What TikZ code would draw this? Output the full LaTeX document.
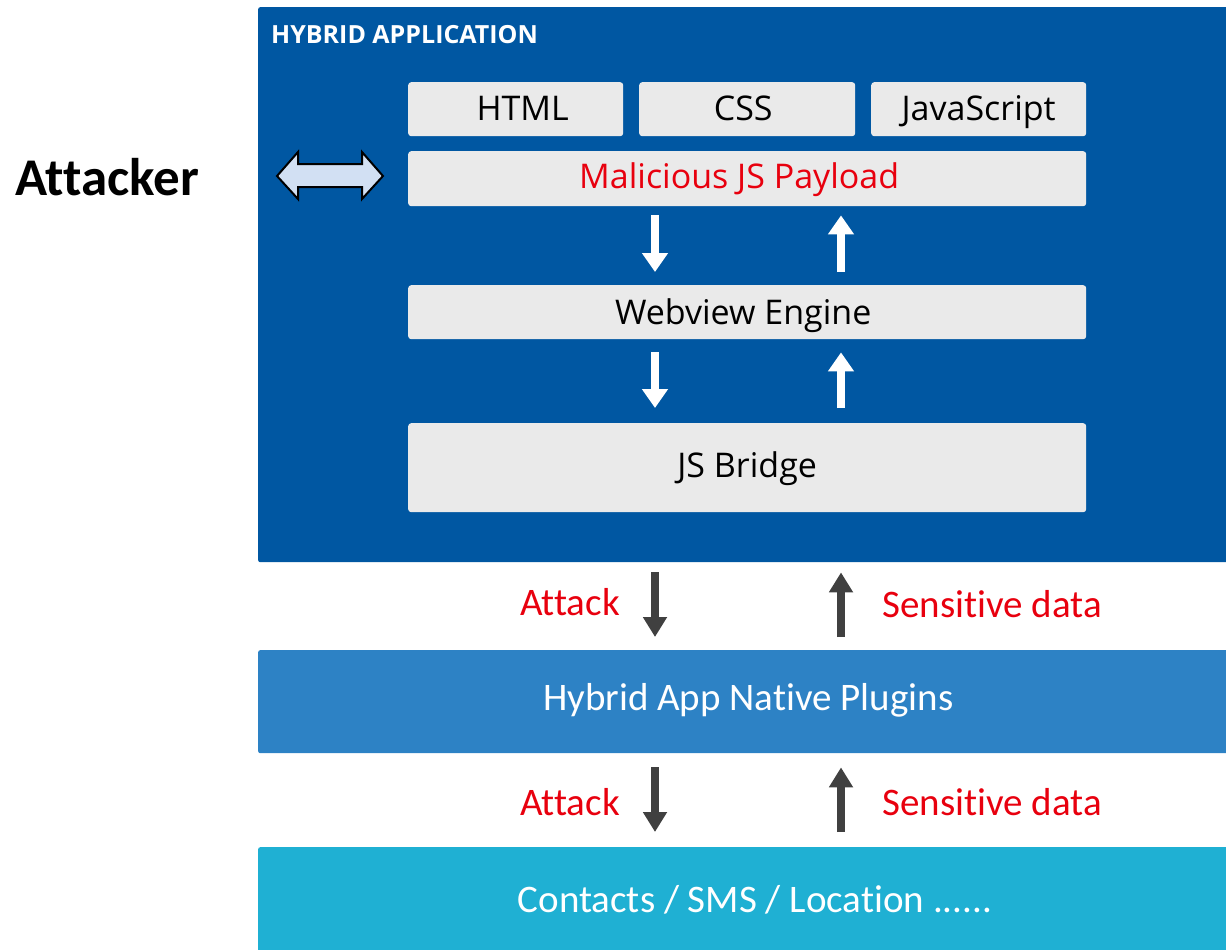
\documentclass[tikz,border=0pt]{standalone}
\usepackage{fontspec}
\setmainfont{Open Sans}
\newfontfamily\calib[Ligatures=NoCommon]{Carlito}
\usetikzlibrary{arrows.meta}
\definecolor{appblue}{RGB}{0,87,162}
\definecolor{plugblue}{RGB}{45,130,197}
\definecolor{devcyan}{RGB}{31,176,211}
\definecolor{boxgray}{RGB}{234,234,234}
\definecolor{alertred}{RGB}{232,0,14}
\definecolor{darkarrow}{RGB}{64,64,64}
\definecolor{attackfill}{RGB}{210,224,243}
\tikzset{
  layer/.style={rounded corners=2pt, inner sep=0pt, anchor=north west},
  webbox/.style={layer, fill=boxgray, rounded corners=3pt},
  boxtext/.style={font=\fontsize{34}{40}\selectfont, anchor=base, inner sep=0pt},
  flowtext/.style={font=\calib\fontsize{39}{46}\selectfont},
  warrow/.style={draw=white, line width=8pt, -{Triangle[width=25pt,length=19pt]}},
  darrow/.style={draw=darkarrow, line width=8pt, -{Triangle[width=23pt,length=20pt]}},
  redlabel/.style={flowtext, text=alertred, inner sep=0pt},
}
\begin{document}
\begin{tikzpicture}[x=1pt,y=-1pt]
\useasboundingbox (0,0) rectangle (1226,950);

% hybrid application container
\node[layer, fill=appblue, minimum width=980pt, minimum height=555pt] (app) at (258,7) {};
\node[anchor=west, text=white, inner sep=0pt, font=\bfseries\fontsize{25}{30}\selectfont] (apptitle) at (271,35) {HYBRID APPLICATION};

% web content layers
\node[webbox, minimum width=215pt, minimum height=54pt] (html) at (408,82) {};
\node[boxtext] at ([xshift=7pt,yshift=-11pt]html.center) {HTML};
\node[webbox, minimum width=216pt, minimum height=54pt] (css) at (639,82) {};
\node[boxtext] at ([xshift=-4pt,yshift=-11pt]css.center) {CSS};
\node[webbox, minimum width=215pt, minimum height=54pt] (js) at (871,82) {};
\node[boxtext] at ([yshift=-11pt]js.center) {JavaScript};
\node[webbox, minimum width=678pt, minimum height=55pt] (mal) at (408,151) {};
\node[boxtext, text=alertred] at ([xshift=-8pt,yshift=-10pt]mal.center) {Malicious JS Payload};
\node[webbox, minimum width=678pt, minimum height=54pt] (web) at (408,285) {};
\node[boxtext] at ([xshift=-4pt,yshift=-12pt]web.center) {Webview Engine};
\node[webbox, minimum width=678pt, minimum height=89pt] (bridge) at (408,423) {};
\node[boxtext] at ([yshift=-10pt]bridge.center) {JS Bridge};

% native layers
\node[layer, fill=plugblue, minimum width=980pt, minimum height=103pt] (plug) at (258,650) {};
\node[flowtext, text=white] at ([yshift=1pt]plug.center) {Hybrid App Native Plugins};
\node[layer, fill=devcyan, minimum width=980pt, minimum height=110pt] (dev) at (258,847) {};
\node[flowtext, text=white] at (755,900) {Contacts / SMS / Location ......};

% columns of the data flow
\coordinate (down) at (655,0);
\coordinate (up) at (841,0);

% flows inside the web view
\draw[warrow] ([yshift=-9pt]mal.south -| down) -- ([yshift=13pt]web.north -| down);
\draw[warrow] ([yshift=13pt]web.north -| up) -- ([yshift=-9pt]mal.south -| up);
\draw[warrow] ([yshift=-13pt]web.south -| down) -- ([yshift=15pt]bridge.north -| down);
\draw[warrow] ([yshift=15pt]bridge.north -| up) -- ([yshift=-13pt]web.south -| up);

% flows between the layers
\draw[darrow] ([yshift=-10pt]app.south -| down) -- ([yshift=13pt]plug.north -| down);
\draw[darrow] ([yshift=13pt]plug.north -| up) -- ([yshift=-10pt]app.south -| up);
\draw[darrow] ([yshift=-14pt]plug.south -| down) -- ([yshift=15pt]dev.north -| down);
\draw[darrow] ([yshift=15pt]dev.north -| up) -- ([yshift=-14pt]plug.south -| up);

\node[redlabel, anchor=east] (atk1) at (620,602) {Attack};
\node[redlabel, anchor=west] (sen1) at (882,604) {Sensitive data};
\node[redlabel, anchor=east] (atk2) at (620,802) {Attack};
\node[redlabel, anchor=west] (sen2) at (882,802) {Sensitive data};

% the attacker talks to the injected payload
\node[anchor=west, inner sep=0pt, font=\calib\bfseries\fontsize{53}{60}\selectfont] (attacker) at (15,177) {Attacker};
\draw[black, line width=2pt, fill=attackfill, line join=miter]
  (277,176) -- (298,152) -- (298,164) -- (362,164) -- (362,152) -- (383,176)
  -- (362,199) -- (362,187) -- (298,187) -- (298,199) -- cycle;
\end{tikzpicture}
\end{document}
